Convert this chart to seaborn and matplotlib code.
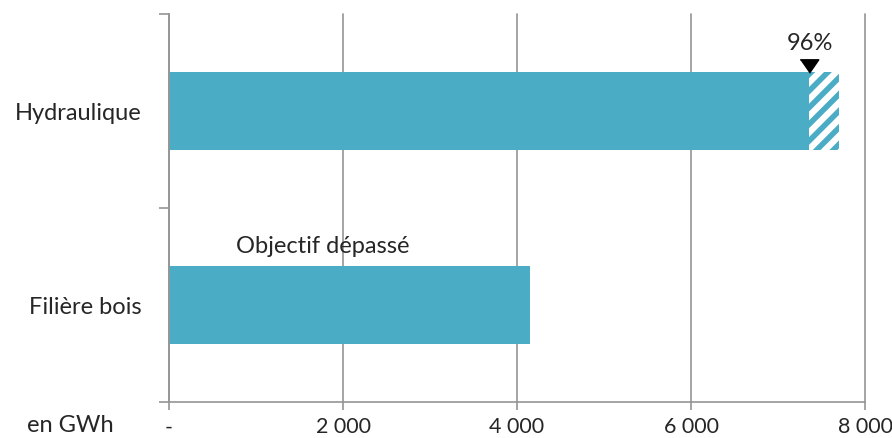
import matplotlib
matplotlib.use("Agg")
import matplotlib.pyplot as plt
import seaborn as sns
import pandas as pd
import numpy as np

# Production réalisée vs objectif, en GWh
filieres = ["Hydraulique", "Filière bois"]
realise = [7360, 4150]
objectif = [7700, np.nan]
taux_label = "96%"
xticks = [0, 2000, 4000, 6000, 8000]
xtick_labels = ["-", "2 000", "4 000", "6 000", "8 000"]

teal = "#4BACC6"
grid_grey = "#959595"
fs = 17

sns.set_theme(style="white")
plt.rcParams["font.family"] = ["Lato", "DejaVu Sans"]
plt.rcParams["hatch.linewidth"] = 4.0

df = pd.DataFrame({"filiere": filieres, "realise": realise, "objectif": objectif})

fig = plt.figure(figsize=(8.92, 4.38), dpi=100)
ax = fig.add_axes([169 / 892, 1 - 402 / 438, (865 - 169) / 892, (402 - 14) / 438])

# Objective drawn first (hatched), achieved value on top
sns.barplot(data=df, x="objectif", y="filiere", orient="h", ax=ax,
            color="white", width=0.4, linewidth=0, hatch="//", saturation=1)
for p in ax.patches:
    p.set_edgecolor(teal)
    p.set_linewidth(0)
sns.barplot(data=df, x="realise", y="filiere", orient="h", ax=ax,
            color=teal, width=0.4, linewidth=0, saturation=1)

ax.set_xlim(0, 8000)
ax.set_ylim(1.5, -0.5)
ax.set_xlabel("")
ax.set_ylabel("")

# Vertical gridlines and axis styling
ax.set_xticks(xticks)
ax.set_xticklabels(xtick_labels, fontsize=15.5)
ax.xaxis.grid(True, color=grid_grey, linewidth=1.2)
for gl in ax.xaxis.get_gridlines():
    gl.set_clip_on(False)
ax.yaxis.grid(False)
ax.set_axisbelow(True)
for s in ["top", "right"]:
    ax.spines[s].set_visible(False)
for s in ["left", "bottom"]:
    ax.spines[s].set_color(grid_grey)
    ax.spines[s].set_linewidth(1.2)

ax.tick_params(axis="x", which="major", bottom=True, length=6, color=grid_grey,
               width=1.2, pad=5)
ax.set_yticks([0, 1])
ax.set_yticklabels(filieres, fontsize=fs)
ax.tick_params(axis="y", which="major", left=False, pad=14)
ax.set_yticks([-0.5, 0.5, 1.5], minor=True)
ax.tick_params(axis="y", which="minor", left=True, length=7, color=grid_grey, width=1.2)

# Annotations: achievement marker above the hydro bar
wide_triangle = [(-1, 0.72), (1, 0.72), (0, -0.72)]
ax.plot([realise[0]], [-0.232], marker=wide_triangle, color="black", markersize=13.4,
        clip_on=False, linestyle="none")
ax.text(realise[0] + 10, -0.35, taux_label, ha="center", va="center", fontsize=fs)
ax.text(1764, 0.70, "Objectif dépassé", ha="center", va="center", fontsize=fs)

fig.text(70 / 892, 1 - 425 / 438, "en GWh", ha="center", va="center", fontsize=fs)

fig.savefig("out.png", dpi=100)
